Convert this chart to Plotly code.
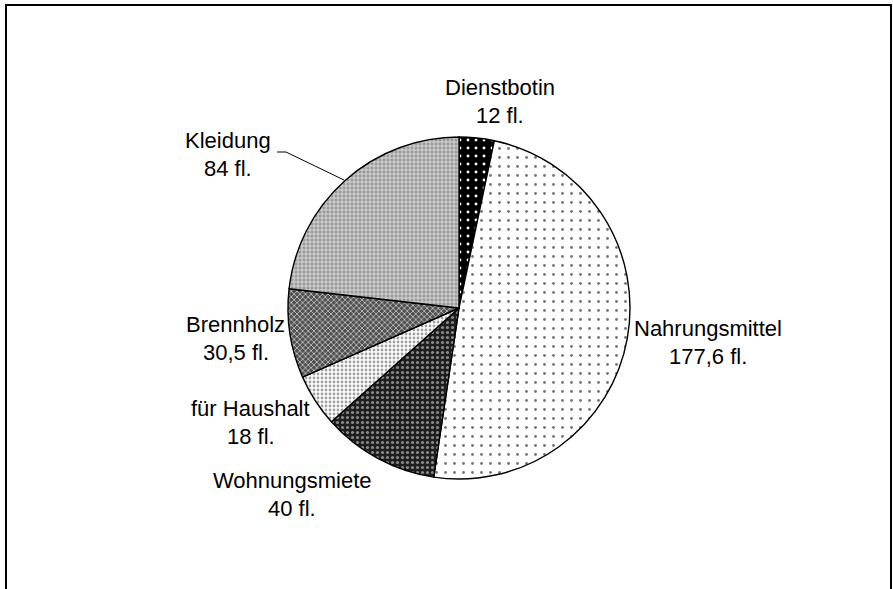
import plotly.graph_objects as go

categories = ["Dienstbotin", "Nahrungsmittel", "Wohnungsmiete", "für Haushalt", "Brennholz", "Kleidung"]
values = [12, 177.6, 40, 18, 30.5, 84]
value_labels = ["12 fl.", "177,6 fl.", "40 fl.", "18 fl.", "30,5 fl.", "84 fl."]

W, H = 893, 589
cx, cy, r = 459, 308, 171
FONT = "Liberation Sans, Arial, sans-serif"
FS = 22

# label placement (pixel centre x, baseline of first line) -- layout only
label_pos = [(500, 95), (708, 335), (292, 487), (251, 415), (236, 331), (228, 147)]
line_gap = 28

fig = go.Figure(go.Pie(
    labels=categories,
    values=values,
    textinfo="none",
    sort=False,
    direction="clockwise",
    rotation=0,
    hoverinfo="label+value",
    marker=dict(
        colors=["#000000", "#ffffff", "#1e1e1e", "#f4f4f4", "#5a5a5a", "#a0a0a0"],
        line=dict(color="#000000", width=1.4),
        pattern=dict(
            shape=[".", ".", ".", ".", "x", "+"],
            fgcolor=["#ffffff", "#777777", "#8a8a8a", "#a0a0a0", "#d0d0d0", "#e6e6e6"],
            bgcolor=["#000000", "#ffffff", "#1e1e1e", "#ffffff", "#505050", "#9a9a9a"],
            size=[8, 9, 5, 4, 4, 4],
            solidity=[0.1, 0.08, 0.3, 0.4, 0.35, 0.35],
            fillmode="replace",
        ),
    ),
    domain=dict(x=[(cx - r) / W, (cx + r) / W], y=[(H - cy - r) / H, (H - cy + r) / H]),
    showlegend=False,
))

annotations = []
for (px, base), name, val in zip(label_pos, categories, value_labels):
    for i, t in enumerate([name, val]):
        b = base + i * line_gap
        ymid = b - 7
        annotations.append(dict(
            text=t, x=px / W, y=1 - ymid / H, xref="paper", yref="paper",
            xanchor="center", yanchor="middle", showarrow=False,
            font=dict(family=FONT, size=FS, color="#000000"),
        ))

fig.update_layout(
    width=W, height=H,
    margin=dict(l=0, r=0, t=0, b=0),
    paper_bgcolor="#ffffff",
    plot_bgcolor="#ffffff",
    font=dict(family=FONT, size=FS, color="#000000"),
    annotations=annotations,
    shapes=[
        dict(type="rect", xref="paper", yref="paper",
             x0=6 / W, x1=891 / W, y0=-0.05, y1=1 - 5 / H,
             line=dict(color="#000000", width=2), fillcolor="rgba(0,0,0,0)"),
        dict(type="path", xref="paper", yref="paper",
             path=f"M {277/W} {1-152/H} L {286/W} {1-152/H} L {344/W} {1-180/H}",
             line=dict(color="#000000", width=1)),
    ],
)

fig.write_html("out.html", config={"displayModeBar": False},
               post_script="document.body.style.margin='0';")
